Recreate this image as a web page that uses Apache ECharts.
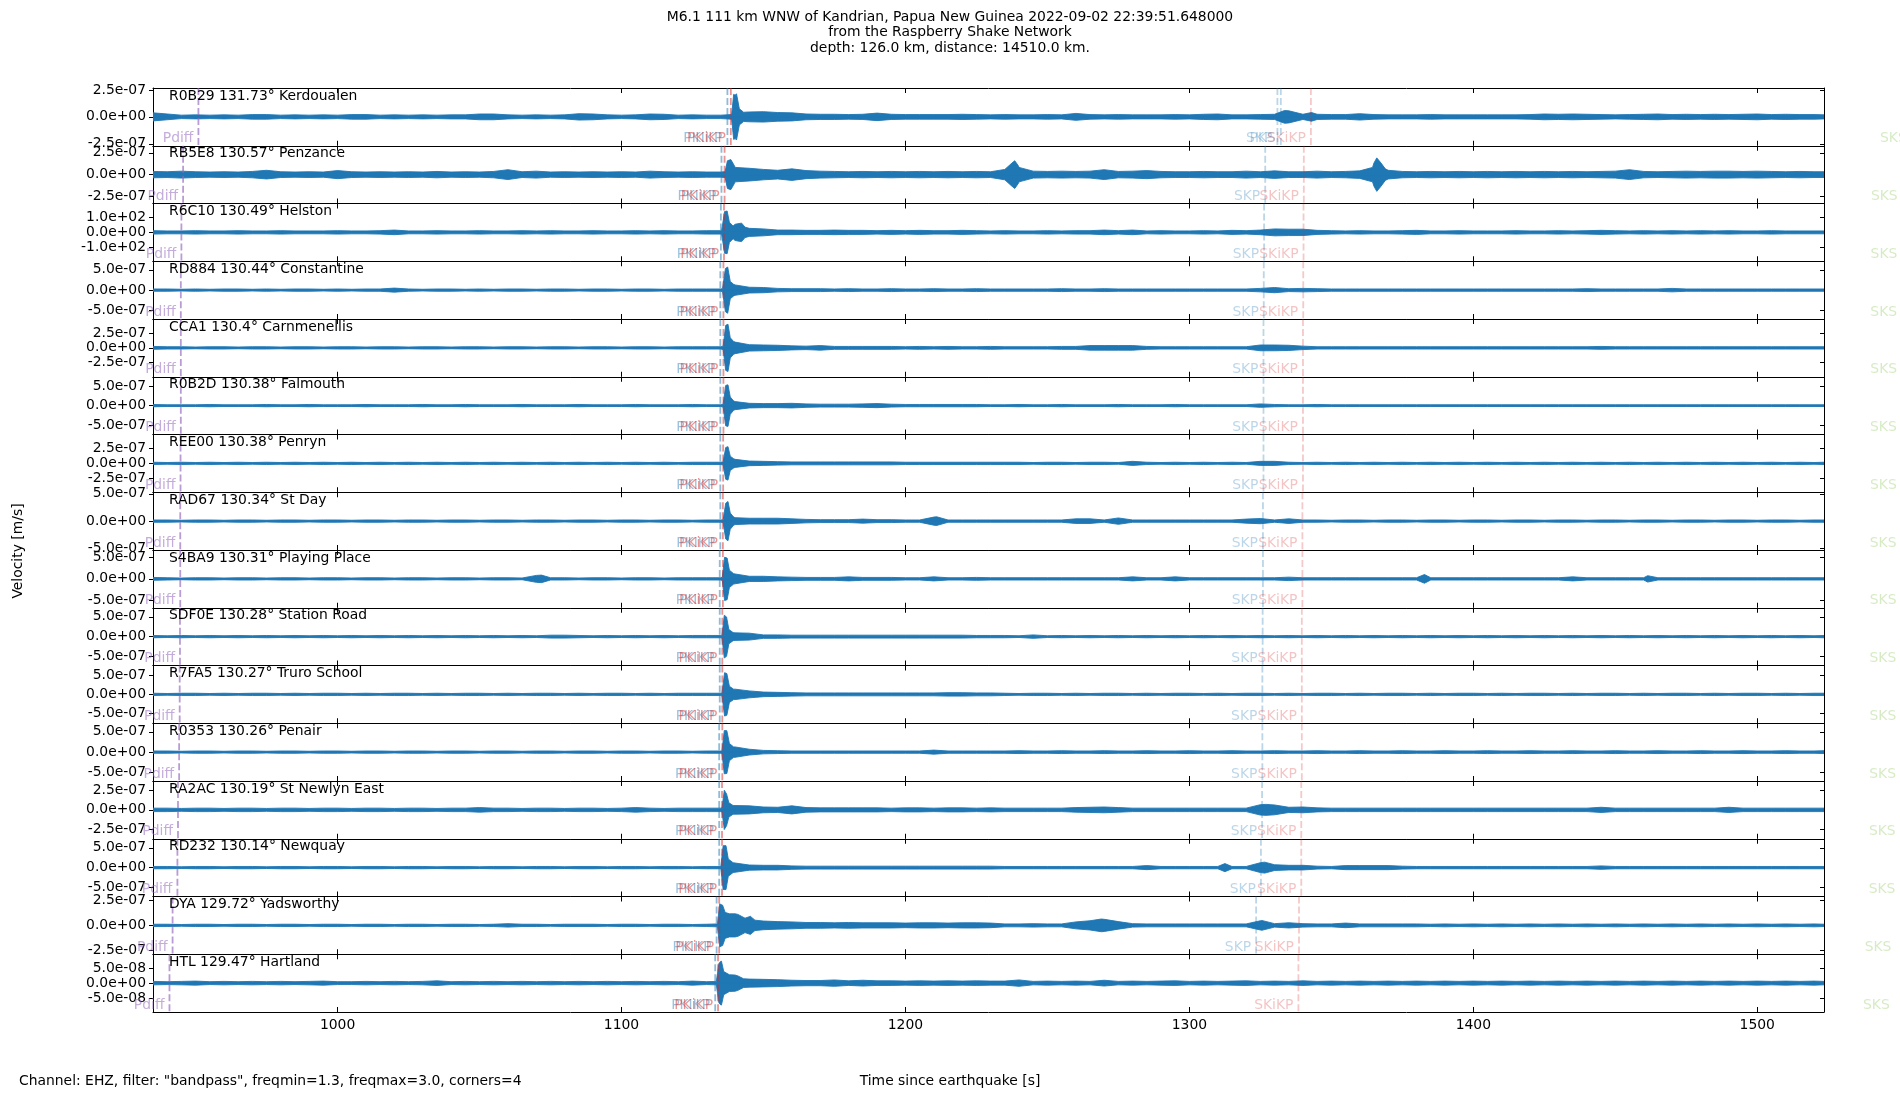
<!DOCTYPE html>
<html><head><meta charset="utf-8">
<script src="https://cdn.jsdelivr.net/npm/echarts@6/dist/echarts.min.js"></script>
<style>html,body{margin:0;padding:0;background:#fff}#chart{width:1900px;height:1100px}</style>
</head><body><div id="chart"></div>
<script>
// ---------------- data ----------------
const stations = ['R0B29','RB5E8','R6C10','RD884','CCA1','R0B2D','REE00','RAD67','S4BA9','SDF0E','R7FA5','R0353','RA2AC','RD232','DYA','HTL'];
const distances = ['131.73','130.57','130.49','130.44','130.4','130.38','130.38','130.34','130.31','130.28','130.27','130.26','130.19','130.14','129.72','129.47'];
const places = ['Kerdoualen','Penzance','Helston','Constantine','Carnmenellis','Falmouth','Penryn','St Day','Playing Place','Station Road','Truro School','Penair','St Newlyn East','Newquay','Yadsworthy','Hartland'];
// panel half-range (y axis limit) and y tick value per panel
const yMax  = [2.68e-7, 3.3e-7, 190, 7.1e-7, 4.9e-7, 7.4e-7, 4.9e-7, 5.3e-7, 6.7e-7, 7.3e-7, 7.5e-7, 7.1e-7, 3.65e-7, 7.3e-7, 2.85e-7, 9.6e-8];
const yTick = [2.5e-7, 2.5e-7, 100, 5e-7, 2.5e-7, 5e-7, 2.5e-7, 5e-7, 5e-7, 5e-7, 5e-7, 5e-7, 2.5e-7, 5e-7, 2.5e-7, 5e-8];
const timeTicks = [1000, 1100, 1200, 1300, 1400, 1500];
const X_MIN = 935, X_MAX = 1523.5;

// envelope of each trace (percent of panel half-range), one value every ENV_STEP s from ENV_START
const ENV_START = 935, ENV_STEP = 5;
const env_R0B29 = [14,10,6,7,6,7,6,8,8,6, 7,6,7,6,8,8,6,7,6,7, 6,7,7,10,10,7,6,7,6,7, 11,10,7,6,7,10,9,6,7,6, 6,75,17,18,15,14,10,9,9,8, 9,13,9,8,8,8,8,9,8,7, 8,7,7,8,7,12,8,7,8,7, 7,7,8,7,9,10,7,7,8,9, 21,9,9,8,8,11,8,7,7,7, 8,7,7,7,7,7,7,8,10,9, 10,9,8,7,8,9,10,8,9,8, 9,8,9,10,8,9,8,8,7];
const env_RB5E8 = [11,10,12,10,9,10,9,11,15,10, 9,10,9,14,10,9,10,9,10,9, 11,9,10,9,11,17,10,12,9,10, 9,10,9,10,9,12,10,9,10,9, 9,25,22,18,15,20,14,12,11,10, 11,10,11,10,11,10,11,10,11,10, 18,25,12,11,12,11,12,17,11,12, 14,11,10,10,11,10,10,12,10,13, 10,10,12,10,11,13,40,15,11,10, 11,10,11,10,11,10,11,10,11,10, 11,10,11,12,17,11,10,11,12,11, 12,12,11,12,11,10,11,10,10];
const env_R6C10 = [6,5,5,6,5,5,6,5,5,6, 5,5,5,6,5,5,6,8,5,5, 6,5,5,6,5,5,6,5,6,5, 5,6,5,5,6,5,6,5,5,6, 6,28,14,12,8,8,7,7,8,7, 7,6,7,6,7,6,6,7,6,5, 6,5,5,6,5,6,6,8,6,8, 5,6,5,5,6,5,7,6,8,12, 11,11,7,6,5,6,5,5,6,7, 5,5,6,5,5,5,6,5,5,6, 5,6,7,6,5,6,5,6,5,6, 5,6,5,5,6,5,5,5,5];
const env_RD884 = [4,4,3,4,3,4,4,3,4,3, 4,4,3,4,3,4,4,7,4,3, 4,4,3,4,3,4,4,3,4,4, 3,4,4,3,4,4,3,4,4,4, 4,18,10,9,6,5,5,5,4,5, 4,4,5,4,4,5,4,4,5,4, 4,4,4,4,5,4,4,5,4,4, 4,4,4,4,4,4,4,4,6,9, 5,6,5,4,4,4,4,4,4,4, 4,4,4,4,4,4,4,4,4,4, 4,5,4,4,4,4,4,6,4,4, 4,4,4,4,4,4,4,4,4];
const env_CCA1  = [5,4,4,3,4,4,3,4,4,3, 4,4,3,4,4,3,4,4,3,4, 4,3,4,4,3,4,4,3,4,4, 3,4,4,3,4,4,3,4,4,4, 4,20,11,10,9,7,6,8,5,5, 5,5,5,4,5,4,5,4,4,5, 4,4,4,4,5,5,8,8,8,8, 5,4,4,4,4,4,4,4,10,10, 9,6,4,4,4,4,4,4,4,4, 4,4,4,4,4,4,4,4,4,4, 4,4,5,4,4,4,4,4,4,4, 4,4,4,4,4,4,4,4,4];
const env_R0B2D = [4,3,3,3,4,3,3,3,4,3, 3,4,3,3,3,4,3,3,3,4, 3,3,4,3,3,3,4,3,3,3, 4,3,3,3,4,3,3,3,4,3, 3,14,8,7,7,8,6,5,5,5, 6,7,5,4,4,4,4,4,4,3, 3,4,3,3,4,3,3,3,4,3, 3,3,4,3,3,3,3,3,6,4, 3,3,4,3,3,3,3,3,3,3, 3,3,3,3,3,3,3,3,3,3, 3,3,3,3,3,3,3,3,3,3, 3,3,3,3,3,3,3,3,3];
const env_REE00 = [4,3,4,3,4,3,4,3,4,3, 4,3,4,3,4,3,4,3,4,3, 4,3,4,3,4,3,4,3,4,3, 4,3,4,3,4,3,4,3,4,4, 4,14,8,7,6,5,5,5,5,5, 5,5,5,4,4,4,4,4,4,4, 4,4,3,4,4,3,4,4,3,7, 4,3,4,3,4,3,4,3,7,7, 4,3,4,3,4,3,4,3,4,3, 4,3,4,3,4,3,4,3,4,3, 4,3,4,3,4,3,4,3,4,3, 4,3,4,3,4,3,4,3,4];
const env_RAD67 = [4,4,3,4,4,3,4,4,3,4, 4,3,4,4,3,4,4,3,4,4, 3,4,4,3,4,4,3,4,4,3, 4,4,3,4,4,3,4,4,3,4, 4,12,10,10,10,8,6,5,5,5, 7,5,5,4,4,14,4,4,4,4, 4,4,4,4,4,8,8,4,11,4, 4,4,4,4,4,4,4,7,9,4, 8,4,4,3,4,4,3,4,4,3, 4,4,3,4,4,3,4,4,3,4, 4,3,4,4,3,4,4,3,4,4, 3,4,4,3,4,4,3,4,4];
const env_S4BA9 = [5,4,3,4,4,3,4,4,3,4, 4,3,4,4,3,4,4,3,4,4, 3,4,4,3,4,4,3,12,4,4, 3,4,4,3,4,4,3,4,4,4, 4,17,9,9,7,6,5,5,5,7, 5,5,5,4,4,7,4,4,5,4, 4,4,4,4,4,4,4,4,4,7, 4,4,7,4,4,4,4,4,4,4, 6,4,4,4,4,4,4,4,4,4, 4,4,4,4,4,4,4,4,4,4, 7,4,4,4,4,4,4,4,4,4, 4,4,4,4,4,4,4,4,4];
const env_SDF0E = [4,3,4,3,4,3,4,3,4,3, 4,3,4,3,4,3,4,3,4,3, 4,3,4,3,4,3,4,3,5,5, 4,3,4,3,4,3,4,3,4,4, 4,13,12,6,6,5,5,5,5,5, 5,5,5,5,5,5,5,5,4,4, 4,3,6,3,4,3,4,3,4,3, 4,3,4,3,4,3,4,3,4,3, 4,3,4,3,4,3,4,3,4,3, 4,3,4,3,4,3,4,3,4,3, 4,3,4,3,4,3,4,3,4,3, 4,3,4,3,4,3,4,3,4];
const env_R7FA5 = [4,3,4,4,3,4,3,4,4,3, 4,3,4,4,3,4,3,4,4,3, 4,3,4,4,3,4,3,4,4,3, 4,3,4,4,3,4,3,4,4,4, 4,18,12,8,7,6,5,5,5,5, 5,5,5,5,5,5,6,6,5,5, 4,3,4,4,3,4,3,4,4,3, 4,3,4,4,3,4,3,4,4,3, 4,3,4,4,3,4,3,4,4,3, 4,3,4,4,3,4,3,4,4,3, 4,3,4,4,3,4,3,4,4,3, 4,3,4,4,3,4,3,4,4];
const env_R0353 = [4,4,3,4,4,3,4,4,3,4, 4,3,4,4,3,4,4,3,4,4, 3,4,4,3,4,4,3,4,4,3, 4,4,3,4,4,3,4,4,3,4, 4,18,10,6,5,4,4,4,4,4, 4,4,4,4,4,7,4,4,4,4, 4,5,4,4,5,4,4,5,4,4, 5,4,4,5,4,4,5,4,4,5, 4,4,5,4,4,5,4,4,5,4, 4,5,4,4,5,4,4,5,4,4, 5,4,4,5,4,4,5,4,4,5, 4,4,5,4,4,5,4,4,5];
const env_RA2AC = [6,6,5,6,6,5,6,6,5,6, 6,5,6,6,5,6,6,5,6,6, 5,6,6,8,6,6,5,6,6,5, 6,6,5,6,8,6,5,6,6,6, 6,15,14,10,9,14,8,7,7,7, 7,7,6,7,7,6,7,7,6,7, 6,6,6,6,6,8,9,10,8,6, 6,6,6,6,6,6,6,6,18,17, 9,10,7,6,6,6,6,6,6,6, 6,6,6,6,6,6,6,6,6,6, 6,6,9,6,6,6,6,6,6,6, 6,9,6,6,6,6,6,6,6];
const env_RD232 = [4,4,3,4,4,3,4,4,3,4, 4,3,4,4,3,4,4,3,4,4, 3,4,4,3,4,4,3,4,4,3, 4,4,3,4,4,3,4,4,3,4, 4,16,9,8,8,6,5,5,5,5, 5,5,5,5,5,5,5,5,5,5, 4,4,4,4,4,4,4,4,4,4, 7,4,4,4,4,4,4,4,17,10, 8,8,5,4,7,7,7,7,5,4, 4,4,4,4,4,4,4,4,4,4, 4,4,6,4,4,4,4,4,4,4, 4,4,4,4,4,4,4,4,4];
const env_DYA   = [4,4,3,4,4,3,4,4,3,4, 4,3,4,4,3,4,4,3,4,4, 3,4,4,3,4,6,4,4,3,4, 4,4,3,4,4,3,4,4,3,4, 72,40,30,15,13,12,10,10,9,10, 9,9,9,8,9,9,8,9,9,8, 5,5,6,5,5,12,16,21,13,6, 5,5,5,5,5,5,5,5,16,6, 9,6,5,5,8,5,5,5,5,5, 4,5,4,5,4,5,4,5,4,5, 4,5,4,5,4,5,4,5,4,5, 4,5,4,5,4,5,4,5,4];
const env_HTL   = [6,5,6,7,5,6,5,6,5,6, 5,6,7,5,5,6,5,6,5,6, 8,5,6,5,6,5,6,5,6,5, 6,5,6,5,6,5,6,5,7,5, 76,28,14,13,12,10,9,9,11,8, 10,8,8,7,8,7,8,7,8,7, 7,11,6,7,6,7,6,10,6,7, 6,7,8,6,7,6,7,8,6,7, 6,8,6,7,6,7,6,7,6,7, 6,7,6,7,6,7,6,7,6,7, 6,7,6,7,6,7,6,7,6,7, 6,7,6,7,6,7,6,7,6];

// sharp peaks: [time s, percent of panel half-range]
const peaks_R0B29 = [[1138.8,8],[1139.5,78],[1140.5,80],[1141.5,28],[1143,16],[1333.5,22],[1343,15]];
const peaks_RB5E8 = [[1136.5,10],[1137.3,48],[1138.5,52],[1139.8,30],[1237.5,40],[1238.5,48],[1239.8,30],[1364.5,25],[1366,58],[1367.5,40],[1369,20]];
const peaks_R6C10 = [[1135.3,8],[1136.3,72],[1137.2,74],[1138,35],[1139.3,22],[1141,30],[1142.3,32],[1143.5,18]];
const peaks_RD884 = [[1135.6,6],[1136.6,75],[1137.4,80],[1138.3,30],[1139.5,20]];
const peaks_CCA1  = [[1135.8,6],[1136.7,78],[1137.5,82],[1138.3,35],[1139.5,22]];
const peaks_R0B2D = [[1135.8,5],[1136.7,70],[1137.5,72],[1138.3,30],[1139.5,16]];
const peaks_REE00 = [[1135.8,5],[1136.7,55],[1137.5,58],[1138.3,25],[1139.5,16]];
const peaks_RAD67 = [[1135.8,5],[1136.7,62],[1137.5,68],[1138.3,28],[1139.5,14],[1211,15]];
const peaks_S4BA9 = [[1071.8,13],[1135.5,6],[1136.3,75],[1137.2,72],[1138,30],[1139.5,18],[1382.8,15],[1461.4,11]];
const peaks_SDF0E = [[1135.4,5],[1136.2,74],[1137,68],[1137.8,25],[1139.3,14]];
const peaks_R7FA5 = [[1135.4,5],[1136.3,75],[1137.1,72],[1138,28],[1139.5,18]];
const peaks_R0353 = [[1135.4,5],[1136.2,75],[1137.1,74],[1138,30],[1139.5,18]];
const peaks_RA2AC = [[1135.4,7],[1136.2,68],[1137,55],[1137.8,25],[1139.3,15],[1327,19]];
const peaks_RD232 = [[1135,5],[1135.8,76],[1136.8,76],[1137.6,30],[1139.3,17],[1312.5,14],[1326.5,19]];
const peaks_DYA   = [[1133.8,5],[1134.6,75],[1135.6,70],[1136.5,45],[1138,40],[1141,38],[1143.5,25],[1145.3,32],[1147,18],[1269,22],[1325.5,17]];
const peaks_HTL   = [[1133.4,6],[1134.3,68],[1135.2,76],[1136,40],[1138,29],[1141,25],[1143,15]];

// phase arrival times (s); order: Pdiff, PKIKP, PKiKP, SKP, PKS, SKiKP, SKS
const phaseNames = ['Pdiff','PKIKP','PKiKP','SKP','PKS','SKiKP','SKS'];
const arr_R0B29 = [951.0, 1137.3, 1138.5, 1331.0, 1332.2, 1342.8, 1554.4];
const arr_RB5E8 = [945.6, 1135.2, 1136.3, 1326.7, null, 1340.3, 1551.2];
const arr_R6C10 = [945.0, 1135.0, 1136.1, 1326.3, null, 1340.2, 1551.1];
const arr_RD884 = [944.8, 1134.8, 1135.9, 1326.2, null, 1340.1, 1551.0];
const arr_CCA1  = [944.8, 1134.8, 1135.9, 1326.1, null, 1340.0, 1551.0];
const arr_R0B2D = [944.8, 1134.8, 1135.9, 1326.1, null, 1340.0, 1550.9];
const arr_REE00 = [944.7, 1134.8, 1135.8, 1326.1, null, 1340.0, 1550.9];
const arr_RAD67 = [944.6, 1134.8, 1135.7, 1325.9, null, 1339.8, 1550.8];
const arr_S4BA9 = [944.6, 1134.6, 1135.7, 1325.9, null, 1339.8, 1550.8];
const arr_SDF0E = [944.5, 1134.6, 1135.5, 1325.8, null, 1339.6, 1550.7];
const arr_R7FA5 = [944.4, 1134.6, 1135.5, 1325.7, null, 1339.6, 1550.7];
const arr_R0353 = [944.2, 1134.4, 1135.5, 1325.7, null, 1339.6, 1550.6];
const arr_RA2AC = [943.8, 1134.4, 1135.4, 1325.6, null, 1339.4, 1550.5];
const arr_RD232 = [943.6, 1134.4, 1135.4, 1325.2, null, 1339.4, 1550.4];
const arr_DYA   = [941.9, 1133.5, 1134.4, 1323.5, null, 1338.6, 1549.0];
const arr_HTL   = [940.8, 1133.0, 1134.0, null,   null, 1338.4, 1548.4];

const titleLines = ['M6.1 111 km WNW of Kandrian, Papua New Guinea 2022-09-02 22:39:51.648000', 'from the Raspberry Shake Network', 'depth: 126.0 km, distance: 14510.0 km.'];
const footLeft = 'Channel: EHZ, filter: "bandpass", freqmin=1.3, freqmax=3.0, corners=4';
const xName = 'Time since earthquake [s]';
const yName = 'Velocity [m/s]';

// ---------------- layout / style ----------------
const envs  = [env_R0B29, env_RB5E8, env_R6C10, env_RD884, env_CCA1, env_R0B2D, env_REE00, env_RAD67, env_S4BA9, env_SDF0E, env_R7FA5, env_R0353, env_RA2AC, env_RD232, env_DYA, env_HTL];
const peaks = [peaks_R0B29, peaks_RB5E8, peaks_R6C10, peaks_RD884, peaks_CCA1, peaks_R0B2D, peaks_REE00, peaks_RAD67, peaks_S4BA9, peaks_SDF0E, peaks_R7FA5, peaks_R0353, peaks_RA2AC, peaks_RD232, peaks_DYA, peaks_HTL];
const arrs  = [arr_R0B29, arr_RB5E8, arr_R6C10, arr_RD884, arr_CCA1, arr_R0B2D, arr_REE00, arr_RAD67, arr_S4BA9, arr_SDF0E, arr_R7FA5, arr_R0353, arr_RA2AC, arr_RD232, arr_DYA, arr_HTL];

const FONT = "'DejaVu Sans', sans-serif";
const FS = 13.9;
const GRID_TOP = 88, PANEL_H = 57.75, GRID_LEFT = 153, GRID_RIGHT = 76;
const TRACE_COLOR = '#1f77b4';
const phaseLineColors  = ['rgba(148,103,189,0.65)','rgba(31,119,180,0.5)','rgba(214,39,40,0.5)','rgba(31,119,180,0.3)','rgba(31,119,180,0.3)','rgba(214,39,40,0.25)','rgba(120,190,60,0.3)'];
const phaseLabelColors = ['rgba(148,103,189,0.55)','rgba(31,119,180,0.45)','rgba(214,39,40,0.5)','rgba(31,119,180,0.3)','rgba(31,119,180,0.3)','rgba(214,39,40,0.28)','rgba(120,190,60,0.3)'];

function sci(v){
  if (Math.abs(v) < 1e-30) return '0.0e+00';
  const parts = v.toExponential(1).split('e');
  const e = parseInt(parts[1], 10);
  return parts[0] + 'e' + (e < 0 ? '-' : '+') + String(Math.abs(e)).padStart(2, '0');
}

const N = stations.length;
const grid = [], xAxis = [], yAxis = [], series = [], graphic = [];
for (let i = 0; i < N; i++) {
  const top = GRID_TOP + i * PANEL_H;
  grid.push({left: GRID_LEFT, right: GRID_RIGHT, top: top, height: PANEL_H, containLabel: false});
  const axLine = {show: true, onZero: false, lineStyle: {color: '#000', width: 1}};
  xAxis.push({gridIndex: i, type: 'value', min: X_MIN, max: X_MAX, position: 'bottom',
    axisLine: axLine, splitLine: {show: false},
    axisTick: {show: true, inside: true, length: 5, customValues: timeTicks, lineStyle: {color: '#000', width: 1}},
    axisLabel: {show: i === N - 1, customValues: timeTicks, formatter: v => String(Math.round(v)), color: '#000', fontSize: FS, fontFamily: FONT, margin: 6}});
  xAxis.push({gridIndex: i, type: 'value', min: X_MIN, max: X_MAX, position: 'top',
    axisLine: axLine, splitLine: {show: false},
    axisTick: {show: true, inside: true, length: 5, customValues: timeTicks, lineStyle: {color: '#000', width: 1}},
    axisLabel: {show: false}});
  const yt = [-yTick[i], 0, yTick[i]];
  yAxis.push({gridIndex: i, type: 'value', min: -yMax[i], max: yMax[i], position: 'left',
    axisLine: axLine, splitLine: {show: false},
    axisTick: {show: true, inside: false, length: 4, customValues: yt, lineStyle: {color: '#000'}},
    axisLabel: {show: true, customValues: yt, formatter: sci, color: '#000', fontSize: FS, fontFamily: FONT, margin: 7}});
  yAxis.push({gridIndex: i, type: 'value', min: -yMax[i], max: yMax[i], position: 'right',
    axisLine: axLine, splitLine: {show: false},
    axisTick: {show: true, inside: true, length: 4, customValues: yt, lineStyle: {color: '#000'}},
    axisLabel: {show: false}});

  // trace envelope
  const ym = yMax[i];
  const pts = envs[i].map((a, k) => [ENV_START + k * ENV_STEP, a]).concat(peaks[i]).sort((p, q) => p[0] - q[0]);
  series.push({type: 'custom', xAxisIndex: 2 * i, yAxisIndex: 2 * i, silent: true, animation: false, clip: true, z: 2,
    data: [[X_MIN, 0]],
    renderItem: function (params, api) {
      const up = [], lo = [];
      for (const p of pts) {
        const t = Math.max(X_MIN, Math.min(X_MAX, p[0]));
        const v = p[1] / 100 * ym;
        up.push(api.coord([t, v]));
        lo.push(api.coord([t, -v]));
      }
      lo.reverse();
      const mid = [api.coord([X_MIN, 0]), api.coord([X_MAX, 0])];
      return {type: 'group', children: [
        {type: 'polygon', shape: {points: up.concat(lo)}, style: {fill: TRACE_COLOR, stroke: TRACE_COLOR, lineWidth: 0.9}},
        {type: 'line', shape: {x1: mid[0][0], y1: mid[0][1], x2: mid[1][0], y2: mid[1][1]}, style: {stroke: TRACE_COLOR, lineWidth: 1.2}}
      ]};
    }});

  // phase markers
  const pdata = [];
  arrs[i].forEach((t, j) => { if (t !== null) pdata.push([t, 0, j]); });
  series.push({type: 'custom', xAxisIndex: 2 * i, yAxisIndex: 2 * i, silent: true, animation: false, clip: false, z: 5,
    data: pdata,
    renderItem: function (params, api) {
      const t = api.value(0), j = api.value(2);
      const a = api.coord([t, ym]), b = api.coord([t, -ym]);
      const children = [];
      if (t >= X_MIN && t <= X_MAX) {
        children.push({type: 'line', shape: {x1: a[0], y1: a[1], x2: b[0], y2: b[1]},
          style: {stroke: phaseLineColors[j], lineWidth: 1.8, lineDash: [7, 3]}});
      }
      children.push({type: 'text', x: b[0] - 5, y: b[1],
        style: {text: phaseNames[j], fill: phaseLabelColors[j], fontSize: FS, fontFamily: FONT, align: 'right', verticalAlign: 'bottom'}});
      return {type: 'group', children: children};
    }});

  graphic.push({type: 'text', left: 169, top: top + 1, z: 10,
    style: {text: stations[i] + ' ' + distances[i] + '\u00b0 ' + places[i], fill: '#000', fontSize: FS, fontFamily: FONT}});
}

titleLines.forEach((s, k) => {
  graphic.push({type: 'text', x: 950, y: 17 + k * 15.8, style: {text: s, fill: '#000', fontSize: FS, fontFamily: FONT, align: 'center', verticalAlign: 'middle'}});
});
graphic.push({type: 'text', x: 19, y: 1081, style: {text: footLeft, fill: '#000', fontSize: FS, fontFamily: FONT, align: 'left', verticalAlign: 'middle'}});
graphic.push({type: 'text', x: 950, y: 1081, style: {text: xName, fill: '#000', fontSize: FS, fontFamily: FONT, align: 'center', verticalAlign: 'middle'}});
graphic.push({type: 'text', x: 18, y: 551, rotation: Math.PI / 2, style: {text: yName, fill: '#000', fontSize: FS, fontFamily: FONT, align: 'center', verticalAlign: 'middle'}});

const chart = echarts.init(document.getElementById('chart'), null, {renderer: 'canvas'});
chart.setOption({backgroundColor: '#fff', animation: false, grid, xAxis, yAxis, series, graphic});
</script></body></html>
